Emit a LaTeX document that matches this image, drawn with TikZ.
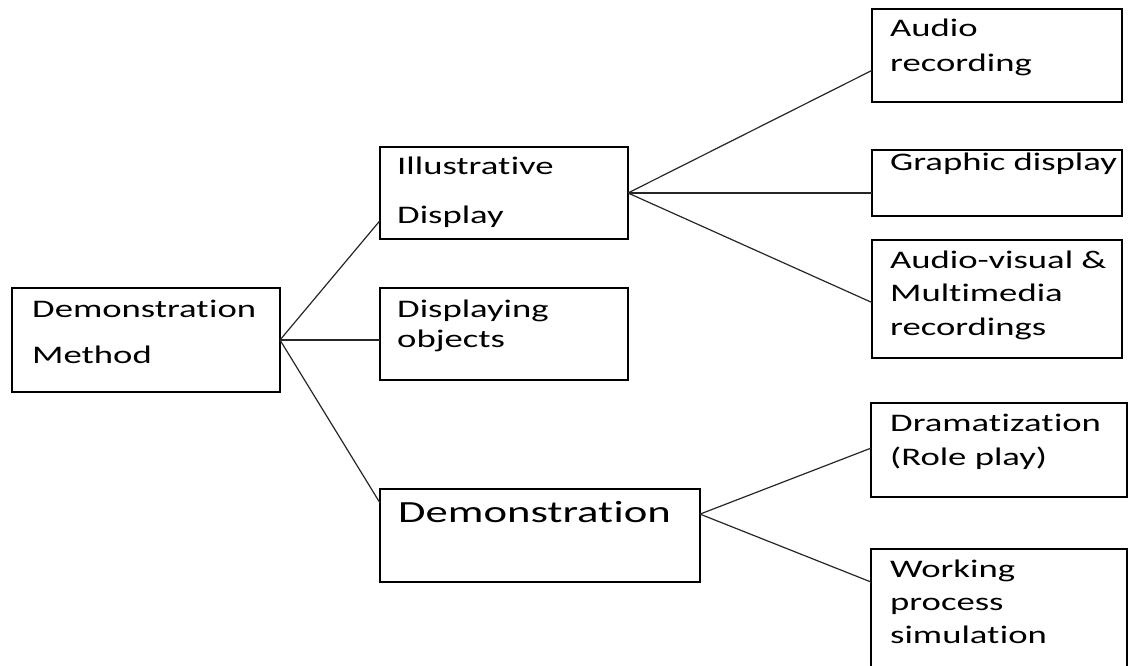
\documentclass[tikz,border=0pt]{standalone}
\usepackage{fontspec}
\setmainfont{Carlito}[FakeStretch=1.45,RawFeature={-liga;-clig;-calt;-dlig}]
\usetikzlibrary{calc}
% stacked text lines with a fixed baseline distance; baseline of the block = first line
\newcommand\txtrows[2]{\vtop{\baselineskip=#1\lineskip=0pt\lineskiplimit=-1000pt\relax#2}}
% keep t and i as separate glyphs
\newcommand\ti{t\kern0.02em i}
\begin{document}
\begin{tikzpicture}[x=1pt,y=-1pt,
  box/.style={draw=black,line width=1.3pt,rectangle,inner sep=0pt,outer sep=0pt,anchor=north west},
  lbl/.style={inner sep=0pt,anchor=base west,font=\fontsize{25.3}{30}\selectfont,text=black},
  link/.style={draw=black!85,line width=1.2pt}]
\useasboundingbox (0,0) rectangle (1132,666);
\clip (0,0) rectangle (1132,666);

% boxes
\node[box,minimum width=268,minimum height=104] (dm) at (12,288) {};
\node[box,minimum width=248,minimum height=92] (il) at (380,147) {};
\node[box,minimum width=248,minimum height=92] (do) at (380,288) {};
\node[box,minimum width=320,minimum height=93] (dd) at (380,489) {};
\node[box,minimum width=250,minimum height=93] (ar) at (872,9) {};
\node[box,minimum width=250,minimum height=66] (gd) at (872,150) {};
\node[box,minimum width=250,minimum height=118] (av) at (872,240) {};
\node[box,minimum width=256,minimum height=94] (dr) at (871,403) {};
\node[box,minimum width=256,minimum height=130] (wp) at (871,549) {};

% labels
\node[lbl] (dmt) at (32,317) {\txtrows{46pt}{\hbox{Demonstra\ti on}\hbox{Method}}};
\node[lbl] (ilt) at (397,175) {\txtrows{48pt}{\hbox{Illustra\ti ve}\hbox{Display}}};
\node[lbl] (dot) at (397,317) {\txtrows{30pt}{\hbox{Displaying}\hbox{objects}}};
\node[lbl,font=\fontsize{30.8}{36}\selectfont] (ddt) at (398,522) {Demonstra\ti on};
\node[lbl] (art) at (890,37) {\txtrows{35pt}{\hbox{Audio}\hbox{recording}}};
\node[lbl] (gdt) at (890,170) {Graphic display};
\node[lbl] (avt) at (890,268) {\txtrows{33.5pt}{\hbox{Audio-visual \&}\hbox{Multimedia}\hbox{recordings}}};
\node[lbl] (drt) at (890,431) {\txtrows{34pt}{\hbox{Drama\ti za\ti on}\hbox{(Role play)}}};
\node[lbl] (wpt) at (890,577) {\txtrows{33pt}{\hbox{Working}\hbox{process}\hbox{simula\ti on}}};

% hubs on the right sides of the parent boxes
\coordinate (ddhub) at ($(dd.north east)!0.27!(dd.south east)$);

% connectors
\draw[link] (dm.east) -- ($(il.north west)!0.8!(il.south west)$);
\draw[link] (dm.east) -- (dm.east -| do.west);
\draw[link] (dm.east) -- ($(dd.north west)!0.15!(dd.south west)$);

\draw[link] (il.east) -- ($(ar.north west)!0.66!(ar.south west)$);
\draw[link] (il.east) -- (il.east -| gd.west);
\draw[link] (il.east) -- ($(av.north west)!0.53!(av.south west)$);

\draw[link] (ddhub) -- ($(dr.north west)!0.48!(dr.south west)$);
\draw[link] (ddhub) -- ($(wp.north west)+(0,33)$);
\end{tikzpicture}
\end{document}
